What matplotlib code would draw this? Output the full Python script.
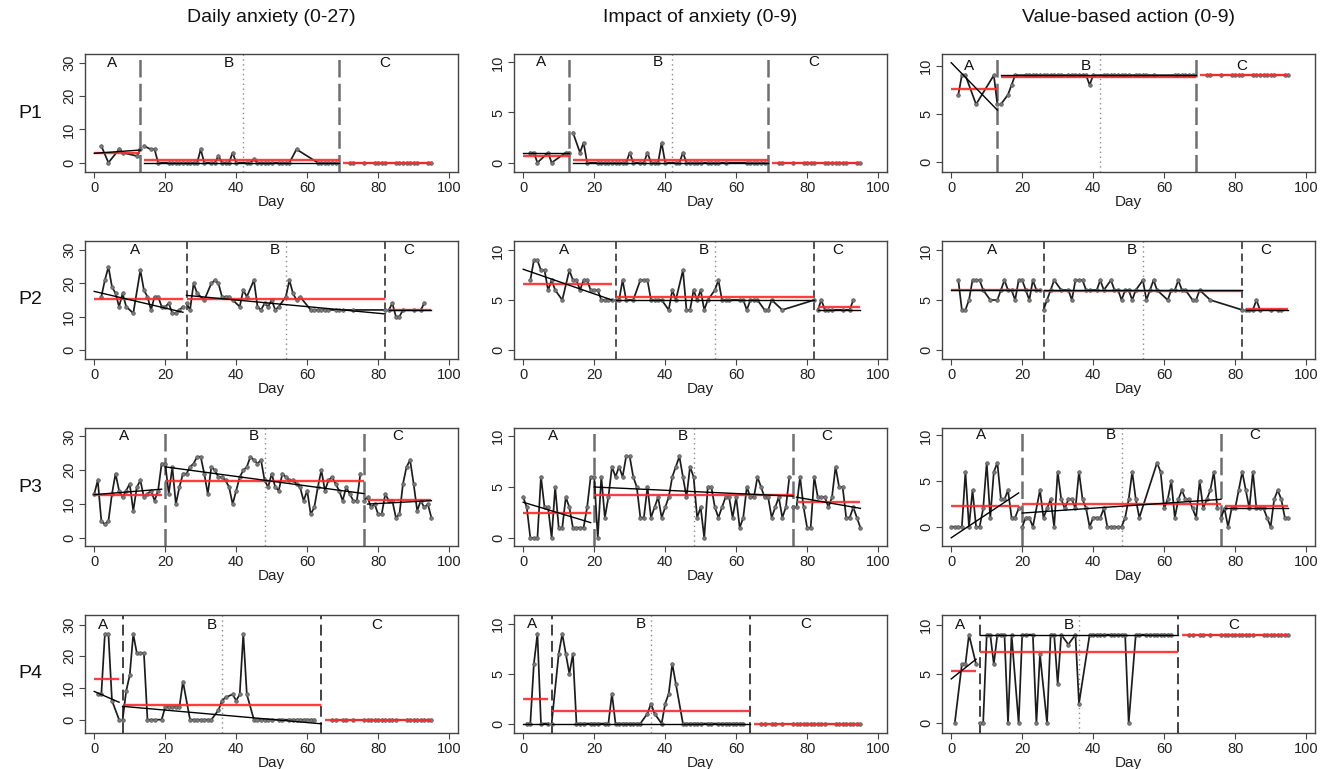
import matplotlib
matplotlib.use("Agg")
import matplotlib.pyplot as plt

plt.rcParams['font.family'] = ['Liberation Sans', 'DejaVu Sans']

col_titles = ['Daily anxiety (0-27)', 'Impact of anxiety (0-9)', 'Value-based action (0-9)']
row_labels = ['P1', 'P2', 'P3', 'P4']
phase_names = ['A', 'B', 'C']
x_ticks = [0, 20, 40, 60, 80, 100]
y_ticks_27 = [0, 10, 20, 30]
y_ticks_9 = [0, 5, 10]

# ---------------- P1 ----------------
p1_bounds = [13, 69]
p1_mid = 42
p1_spans = [(0, 13), (14, 69), (70, 95)]
p1_days_A = [2, 3, 4, 7, 8, 12, 13]
p1_anx_A = [5, None, 0, 4, 3, 2, 4]
p1_imp_A = [1, 1, 0, 1, 0, 1, 1]
p1_val_A = [7, 9, 9, 6, None, 9, 6]
p1_days_B = [14, 16, 17, 18, 21, 22, 23, 24, 25, 26, 27, 28, 29, 30, 31, 33, 34, 35, 36, 37, 38,
             39, 40, 43, 44, 45, 46, 47, 48, 49, 50, 52, 53, 54, 55, 57, 63, 64, 65, 66, 67, 68]
p1_anx_B = [5, 4, 4, 0, 0, 0, 0, 0, 0, 0, 0, 0, 0, 4, 0, 0, 0, 2, 0, 0, 0,
            3, 0, 0, 0, 1, 0, 0, 0, 0, 0, 0, 0, 0, 0, 4, 0, 0, 0, 0, 0, 0]
p1_imp_B = [3, 1, 2, 0, 0, 0, 0, 0, 0, 0, 0, 0, 0, 1, 0, 0, 0, 1, 0, 0, 0,
            2, 0, 0, 0, 1, 0, 0, 0, 0, 0, 0, 0, 0, 0, 0, 0, 0, 0, 0, 0, 0]
p1_val_B = [6, 7, 8, 9, 9, 9, 9, 9, 9, 9, 9, 9, 9, 9, 9, 9, 9, 9, 9, 9, 9,
            8, 9, 9, 9, 9, 9, 9, 9, 9, 9, 9, 9, 9, 9, 9, 9, 9, 9, 9, 9, 9]
p1_days_C = [72, 73, 76, 79, 80, 81, 82, 85, 86, 87, 88, 89, 90, 91, 94, 95]
p1_anx_C = [0, 0, 0, 0, 0, 0, 0, 0, 0, 0, 0, 0, 0, 0, 0, 0]
p1_imp_C = [0, 0, 0, 0, 0, 0, 0, 0, 0, 0, 0, 0, 0, 0, 0, 0]
p1_val_C = [9, 9, 9, 9, 9, 9, 9, 9, 9, 9, 9, 9, 9, 9, 9, 9]
p1_anx_mean = [3.0, 0.7, 0.0]
p1_imp_mean = [0.7, 0.3, 0.0]
p1_val_mean = [7.6, 8.8, 9.0]
p1_anx_trend = [(2.8, 3.8), (0, 0), None]
p1_imp_trend = [(1, 1), (0, 0), None]
p1_val_trend = [(10.3, 5.4), (9, 9), None]

# ---------------- P2 ----------------
p2_bounds = [26, 82]
p2_mid = 54
p2_spans = [(0, 25), (26, 82), (83, 95)]
p2_days_A = [2, 3, 4, 5, 6, 7, 8, 9, 11, 13, 14, 15, 16, 17, 18, 19, 20, 21, 22, 23, 24, 25]
p2_anx_A = [16, 21, 25, 19, 17, 13, 17, 13, 11, 24, 18, 16, 12, 16, 16, 13, 13, 14, 11, 11, 12, 13]
p2_imp_A = [7, 9, 9, 8, 8, 6, 7, 6, 5, 8, 7, 7, 6, 7, 7, 6, 6, 6, 5, 5, 5, 5]
p2_val_A = [7, 4, 4, 5, 7, 7, 7, 6, 5, 5, 6, 7, 6, 6, 5, 7, 7, 6, 5, 7, 6, 6]
p2_days_B = [26, 27, 28, 29, 31, 33, 34, 35, 36, 37, 38, 39, 41, 42, 43, 45, 46, 47, 48, 49,
             50, 51, 52, 54, 55, 56, 57, 58, 61, 62, 63, 64, 65, 66, 68, 69, 70, 73, 82]
p2_anx_B = [14, 12, 20, 17, 15, 20, 21, 20, 16, 16, 16, 15, 13, 18, 16, 21, 13, 12, 14, 13,
            15, 12, 13, 16, 21, 17, 15, 16, 12, 12, 12, 12, 12, 12, 12, 12, 12, 12, 12]
p2_imp_B = [5, 5, 7, 5, 5, 7, 7, 7, 5, 5, 5, 5, 4, 6, 5, 8, 4, 4, 6, 5,
            6, 4, 5, 6, 7, 5, 5, 5, 5, 5, 4, 5, 5, 5, 4, 4, 5, 4, 5]
p2_val_B = [4, 5, 6, 7, 6, 6, 5, 7, 7, 7, 6, 6, 6, 7, 6, 7, 6, 6, 5, 6,
            6, 5, 6, 7, 5, 6, 7, 6, 5, 6, 6, 7, 6, 6, 5, 5, 6, 5, 4]
p2_days_C = [83, 84, 85, 86, 87, 90, 92, 93]
p2_anx_C = [12, 14, 10, 10, 12, 12, 12, 14]
p2_imp_C = [4, 5, 4, 4, 4, 4, 4, 5]
p2_val_C = [4, 4, 4, 5, 4, 4, 4, 4]
p2_anx_mean = [15.2, 15.2, 12.0]
p2_imp_mean = [6.6, 5.3, 4.3]
p2_val_mean = [6.0, 5.9, 4.1]
p2_anx_trend = [(17.6, 11.3), (16.4, 10.8), (12, 12)]
p2_imp_trend = [(8.1, 5.0), (5, 5), (4, 4)]
p2_val_trend = [(6, 6), (6, 6), (4, 4)]

# ---------------- P3 ----------------
p3_bounds = [20, 76]
p3_mid = 48
p3_spans = [(0, 19), (20, 76), (77, 95)]
p3_days_A = list(range(0, 20))
p3_days_B = list(range(20, 76))
p3_days_C = list(range(76, 96))
p3_anx_A = [13, 17, 5, 4, 5, 13, 19, 14, 12, 14, 16, 8, 15, 17, 12, 13, 14, 11, 14, 22]
p3_anx_B = [22, 13, 21, 10, 15, 19, 19, 21, 22, 24,
            24, 19, 13, 21, 20, 18, 18, 17, 15, 10,
            14, 18, 20, 21, 24, 23, 22, 23, 17, 15,
            19, 15, 14, 19, 18, 17, 17, 16, 15, 11,
            14, 7, 9, 15, 20, 14, 17, 18, 16, 14,
            11, 15, 13, 11, 11, 19]
p3_anx_C = [11, 12, 9, 10, 7, 7, 13, 11, 11, 6, 7, 16, 21, 23, 16, 8, 11, 9, 10, 6]
p3_imp_A = [4, 3, 0, 0, 0, 6, 3, 3, 0, 5, 1, 1, 4, 3, 1, 1, 1, 1, 3, 6]
p3_imp_B = [6, 0, 6, 2, 4, 7, 6, 7, 6, 8,
            8, 6, 5, 2, 2, 5, 2, 3, 4, 2,
            3, 4, 6, 7, 8, 6, 4, 7, 6, 2,
            3, 0, 5, 5, 3, 2, 3, 4, 4, 2,
            4, 1, 2, 5, 4, 4, 6, 5, 4, 4,
            2, 3, 4, 2, 3, 6]
p3_imp_C = [3, 3, 6, 3, 1, 1, 6, 4, 4, 4, 3, 4, 7, 5, 5, 2, 2, 3, 2, 1]
p3_val_A = [0, 0, 0, 0, 6, 0, 4, 0, 0, 2, 7, 1, 6, 7, 3, 3, 4, 1, 1, 2]
p3_val_B = [0, 1, 1, 0, None, 4, 1, 2, 3, 0,
            6, 3, 2, 3, 3, 2, 6, 3, 2, 0,
            1, 1, 1, 2, 0, 0, 0, 0, 0, 1,
            3, 6, 3, 1, None, None, None, None, 7, 6,
            2, 3, 5, 1, 3, 4, 3, 3, 2, 1,
            5, 2, 3, 4, 6, 2]
p3_val_C = [1, 2, 0, 2, 2, 4, 6, 4, 2, 6, 2, 2, 2, 1, 0, 3, 4, 3, 1, 1]
p3_anx_mean = [12.8, 16.7, 11.1]
p3_imp_mean = [2.4, 4.2, 3.5]
p3_val_mean = [2.3, 2.45, 2.3]
p3_anx_trend = [(12.8, 14.4), (21.0, 13.1), (10.0, 11.0)]
p3_imp_trend = [(3.5, 1.5), (5.0, 4.1), (4.0, 2.9)]
p3_val_trend = [(-1.2, 3.7), (1.5, 3.0), (2.0, 2.0)]

# ---------------- P4 ----------------
p4_bounds = [8, 64]
p4_mid = 36
p4_spans = [(0, 7), (8, 64), (65, 95)]
p4_days_A = [1, 2, 3, 4, 5, 7]
p4_anx_A = [8, 8, 27, 27, 6, 0]
p4_imp_A = [0, 0, 6, 9, 0, 0]
p4_val_A = [0, None, 6, 6, 9, 6]
p4_days_B = [8, 9, 10, 11, 12, 13, 14, 15, 16, 17,
             19, 20, 21, 22, 23, 24, 25, 26, 27, 28, 29, 30, 31, 32, 33,
             35, 36, 37, 39, 40, 41, 42, 43, 45, 46, 47, 48, 49, 50,
             52, 53, 55, 56, 57, 58, 59, 60, 61, 62]
p4_anx_B = [0, 9, 14, 27, 21, 21, 21, 0, 0, 0,
            0, 4, 4, 4, 4, 4, 12, None, 0, 0, 0, 0, 0, 0, 0,
            3, 6, 7, 8, 6, 8, 27, 8, 0, 0, 0, 0, 0, 0,
            0, 0, 0, 0, 0, 0, 0, 0, 0, 0]
p4_imp_B = [0, None, 7, 9, 7, 5, 7, 0, 0, 0,
            0, 0, 0, None, 0, 0, 3, 0, 0, 0, 0, 0, 0, 0, 0,
            1, 2, 1, 0, 2, 3, 6, 4, 0, 0, 0, 0, 0, 0,
            0, 0, 0, 0, 0, 0, 0, 0, 0, 0]
p4_val_B = [0, 0, 9, 9, 6, 9, 9, 9, 0, 9,
            0, 9, 9, None, 9, 0, 7, None, 0, 9, 9, 4, 9, None, 8,
            9, 2, None, 9, 9, 9, 9, 9, 9, 9, 9, 9, 9, 0,
            9, 9, 9, 9, 9, 9, 9, 9, 9, 9]
p4_days_C = [67, 68, 70, 71, 73, 76, 77, 78, 79, 80, 81, 82, 83, 84, 85, 88, 89, 90, 91, 92, 93, 94, 95]
p4_anx_C = [0, 0, 0, 0, 0, 0, 0, 0, 0, 0, 0, 0, 0, 0, 0, 0, 0, 0, 0, 0, 0, 0, 0]
p4_imp_C = [0, 0, 0, 0, 0, 0, 0, 0, 0, 0, 0, 0, 0, 0, 0, 0, 0, 0, 0, 0, 0, 0, 0]
p4_val_C = [9, 9, 9, 9, 9, 9, 9, 9, 9, 9, 9, 9, 9, 9, 9, 9, 9, 9, 9, 9, 9, 9, 9]
p4_anx_mean = [12.7, 4.6, 0.0]
p4_imp_mean = [2.5, 1.3, 0.0]
p4_val_mean = [5.3, 7.25, 9.0]
p4_anx_trend = [(8.9, 5.5), (4.2, -1.3), None]
p4_imp_trend = [(0, 0), (0, 0), None]
p4_val_trend = [(4.5, 6.5), (9, 9), None]

# ---------------- assembly ----------------
rows = [
    dict(bounds=p1_bounds, mid=p1_mid, spans=p1_spans, days=[p1_days_A, p1_days_B, p1_days_C],
         vals=[[p1_anx_A, p1_anx_B, p1_anx_C], [p1_imp_A, p1_imp_B, p1_imp_C], [p1_val_A, p1_val_B, p1_val_C]],
         means=[p1_anx_mean, p1_imp_mean, p1_val_mean], trends=[p1_anx_trend, p1_imp_trend, p1_val_trend]),
    dict(bounds=p2_bounds, mid=p2_mid, spans=p2_spans, days=[p2_days_A, p2_days_B, p2_days_C],
         vals=[[p2_anx_A, p2_anx_B, p2_anx_C], [p2_imp_A, p2_imp_B, p2_imp_C], [p2_val_A, p2_val_B, p2_val_C]],
         means=[p2_anx_mean, p2_imp_mean, p2_val_mean], trends=[p2_anx_trend, p2_imp_trend, p2_val_trend]),
    dict(bounds=p3_bounds, mid=p3_mid, spans=p3_spans, days=[p3_days_A, p3_days_B, p3_days_C],
         vals=[[p3_anx_A, p3_anx_B, p3_anx_C], [p3_imp_A, p3_imp_B, p3_imp_C], [p3_val_A, p3_val_B, p3_val_C]],
         means=[p3_anx_mean, p3_imp_mean, p3_val_mean], trends=[p3_anx_trend, p3_imp_trend, p3_val_trend]),
    dict(bounds=p4_bounds, mid=p4_mid, spans=p4_spans, days=[p4_days_A, p4_days_B, p4_days_C],
         vals=[[p4_anx_A, p4_anx_B, p4_anx_C], [p4_imp_A, p4_imp_B, p4_imp_C], [p4_val_A, p4_val_B, p4_val_C]],
         means=[p4_anx_mean, p4_imp_mean, p4_val_mean], trends=[p4_anx_trend, p4_imp_trend, p4_val_trend]),
]

# layout (pixels)
W, H = 1330, 769
col_left = [85, 514, 942]
row_top = [54, 241, 428, 615]
ax_w, ax_h = 373, 118
ylims = [
    [(-2.8, 32.6), (-0.93, 10.83), (-1.0, 11.2)],
    [(-2.8, 32.8), (-0.95, 10.95), (-0.95, 10.95)],
    [(-2.4, 32.5), (-0.8, 10.8), (-2.1, 10.8)],
    [(-4.2, 33.0), (-0.95, 10.9), (-1.0, 11.0)],
]
dash_styles = [
    dict(color='#6e6e6e', lw=1.8, dashes=(7, 2.5)),
    dict(color='#222222', lw=1.1, dashes=(5, 3)),
    dict(color='#6e6e6e', lw=1.8, dashes=(7, 2.5)),
    dict(color='#333333', lw=1.3, dashes=(6, 3)),
]

fig = plt.figure(figsize=(W / 100, H / 100), dpi=100)

for r, row in enumerate(rows):
    for c in range(3):
        ax = fig.add_axes([col_left[c] / W, 1 - (row_top[r] + ax_h) / H, ax_w / W, ax_h / H])
        ax.set_xlim(-2.6, 102.5)
        ax.set_ylim(*ylims[r][c])
        # phase boundaries
        for b in row['bounds']:
            ax.axvline(b, zorder=2, **dash_styles[r])
        ax.axvline(row['mid'], color='#8a8a8a', lw=1.0, linestyle=(0, (1, 2.5)), zorder=2)
        # data
        for d, v in zip(row['days'], row['vals'][c]):
            pts = [(x, y) for x, y in zip(d, v) if y is not None]
            xs = [p[0] for p in pts]
            ys = [p[1] for p in pts]
            ax.plot(xs, ys, '-', color='#1c1c1c', lw=1.25, marker='o', ms=2.6,
                    mfc='#7a7a7a', mec='#555555', mew=0.5, zorder=3)
        # means (red) and trends (black)
        for (s, e), m in zip(row['spans'], row['means'][c]):
            ax.plot([s, e], [m, m], color='#ff2a2a', lw=1.7, alpha=0.9, zorder=4, solid_capstyle='butt')
        for (s, e), t in zip(row['spans'], row['trends'][c]):
            if t is not None:
                ax.plot([s, e], [t[0], t[1]], color='black', lw=1.0, zorder=5)
        # phase letters
        b1, b2 = row['bounds']
        ly = 30 if c == 0 else 10
        lx = [b1 / 2 - 1.5, (b1 + b2) / 2 - 3, (b2 + 95) / 2]
        for name, x in zip(phase_names, lx):
            ax.text(x, ly, name, ha='center', va='center', fontsize=11, color='#111111', zorder=6)
        # axes styling
        ax.set_xticks(x_ticks)
        ax.set_yticks(y_ticks_27 if c == 0 else y_ticks_9)
        for sp in ax.spines.values():
            sp.set_color('#444444')
            sp.set_linewidth(1.0)
        ax.tick_params(direction='out', length=4.5, width=0.8, colors='#444444',
                       labelcolor='#222222', labelsize=10.5, pad=2)
        plt.setp(ax.get_yticklabels(), rotation=90, va='center')
        ax.set_xlabel('Day', fontsize=11, labelpad=0, color='#222222')

for c, t in enumerate(col_titles):
    fig.text((col_left[c] + ax_w / 2) / W, 1 - 18 / H, t, ha='center', va='center', fontsize=14, color='#111111')
for r, lab in enumerate(row_labels):
    fig.text(30 / W, 1 - (row_top[r] + ax_h / 2) / H, lab, ha='center', va='center', fontsize=14, color='#111111')

fig.savefig('out.png', dpi=100)
